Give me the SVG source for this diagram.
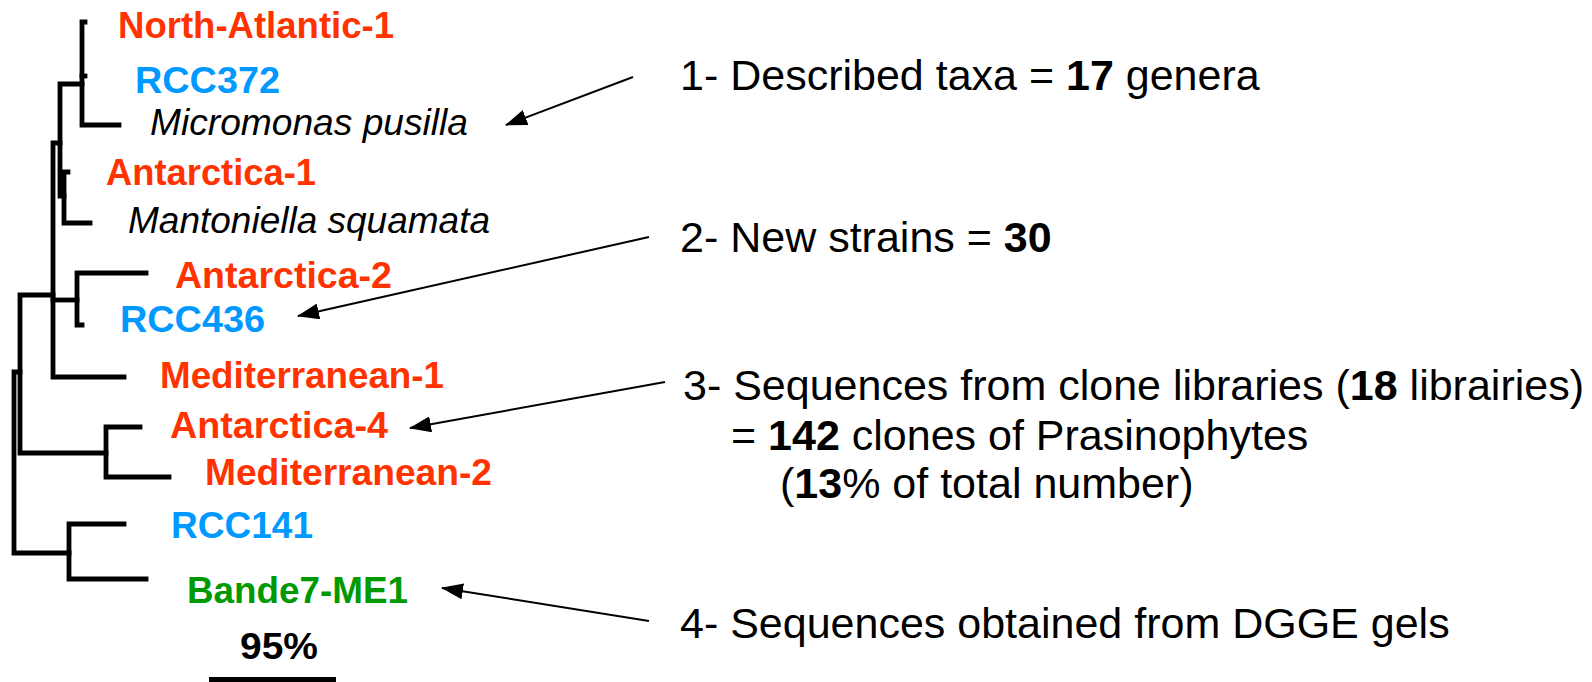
<svg xmlns="http://www.w3.org/2000/svg" width="1592" height="682" viewBox="0 0 1592 682">
  <style>
    .br { fill: none; stroke: #000; stroke-width: 4.8; stroke-linejoin: miter; stroke-linecap: square; }
    .lbl { font-family: "Liberation Sans", Arial, sans-serif; font-size: 36px; font-weight: bold; }
    .red { fill: #FF3300; }
    .blue { fill: #0099FF; }
    .green { fill: #009900; }
    .sp { font-family: "Liberation Sans", Arial, sans-serif; font-size: 36px; font-style: italic; fill: #000; }
    .txt { font-family: "Liberation Sans", Arial, sans-serif; font-size: 43px; fill: #000; }
    .b { font-weight: bold; }
    .arr { fill: none; stroke: #000; stroke-width: 2; marker-end: url(#ah); }
  </style>
  <defs>
    <marker id="ah" viewBox="0 0 22 16" markerWidth="22" markerHeight="16" markerUnits="userSpaceOnUse" refX="21" refY="8" orient="auto">
      <path d="M0,0 L22,8 L0,16 z" fill="#000"/>
    </marker>
  </defs>
  <rect width="1592" height="682" fill="#fff"/>

  <g id="tree">
    <path class="br" d="M85,22 H82 V125 H119"/>
    <path class="br" d="M82,76 H85"/>
    <path class="br" d="M82,84 H60 V196 H64"/>
    <path class="br" d="M68,172 H64 V223 H90"/>
    <path class="br" d="M60,143 H53 V377 H124"/>
    <path class="br" d="M146,273 H77 V325 H82"/>
    <path class="br" d="M53,300 H77"/>
    <path class="br" d="M53,295 H20 V453 H106"/>
    <path class="br" d="M140,427 H106 V477 H169"/>
    <path class="br" d="M20,372 H14 V553 H69"/>
    <path class="br" d="M124,524 H69 V579 H146"/>
  </g>

  <g id="n-north-atlantic-1"><text class="lbl red" x="118" y="38" textLength="276" lengthAdjust="spacingAndGlyphs">North-Atlantic-1</text></g>
  <g id="n-rcc372"><text class="lbl blue" x="135" y="93" textLength="145" lengthAdjust="spacingAndGlyphs">RCC372</text></g>
  <g id="n-micromonas"><text class="sp" x="150" y="135" textLength="318" lengthAdjust="spacingAndGlyphs">Micromonas pusilla</text></g>
  <g id="n-antarctica-1"><text class="lbl red" x="106" y="185" textLength="210" lengthAdjust="spacingAndGlyphs">Antarctica-1</text></g>
  <g id="n-mantoniella"><text class="sp" x="128" y="233" textLength="362" lengthAdjust="spacingAndGlyphs">Mantoniella squamata</text></g>
  <g id="n-antarctica-2"><text class="lbl red" x="175" y="288" textLength="217" lengthAdjust="spacingAndGlyphs">Antarctica-2</text></g>
  <g id="n-rcc436"><text class="lbl blue" x="120" y="332" textLength="145" lengthAdjust="spacingAndGlyphs">RCC436</text></g>
  <g id="n-mediterranean-1"><text class="lbl red" x="160" y="388" textLength="284" lengthAdjust="spacingAndGlyphs">Mediterranean-1</text></g>
  <g id="n-antarctica-4"><text class="lbl red" x="170" y="438" textLength="218" lengthAdjust="spacingAndGlyphs">Antarctica-4</text></g>
  <g id="n-mediterranean-2"><text class="lbl red" x="205" y="485" textLength="287" lengthAdjust="spacingAndGlyphs">Mediterranean-2</text></g>
  <g id="n-rcc141"><text class="lbl blue" x="171" y="538" textLength="142" lengthAdjust="spacingAndGlyphs">RCC141</text></g>
  <g id="n-bande7"><text class="lbl green" x="187" y="603" textLength="221" lengthAdjust="spacingAndGlyphs">Bande7-ME1</text></g>

  <g id="scale">
    <text class="lbl" x="240" y="659" fill="#000" textLength="78" lengthAdjust="spacingAndGlyphs">95%</text>
    <rect x="209" y="677" width="127" height="6" fill="#000"/>
  </g>

  <g id="note1"><text class="txt" x="680" y="90">1- Described taxa = <tspan class="b">17</tspan> genera</text></g>
  <g id="note2"><text class="txt" x="680" y="252">2- New strains = <tspan class="b">30</tspan></text></g>
  <g id="note3">
    <text class="txt" x="683" y="400" font-size="42.5">3- Sequences from clone libraries (<tspan class="b">18</tspan> librairies)</text>
    <text class="txt" x="731" y="450" font-size="42.5">= <tspan class="b">142</tspan> clones of Prasinophytes</text>
    <text class="txt" x="780" y="498" font-size="42.5">(<tspan class="b">13</tspan>% of total number)</text>
  </g>
  <g id="note4"><text class="txt" x="680" y="638">4- Sequences obtained from DGGE gels</text></g>

  <g id="connectors">
    <line class="arr" x1="633" y1="77" x2="506" y2="125"/>
    <line class="arr" x1="649" y1="237" x2="298" y2="316"/>
    <line class="arr" x1="665" y1="382" x2="410" y2="428"/>
    <line class="arr" x1="649" y1="621" x2="442" y2="588"/>
  </g>
</svg>
